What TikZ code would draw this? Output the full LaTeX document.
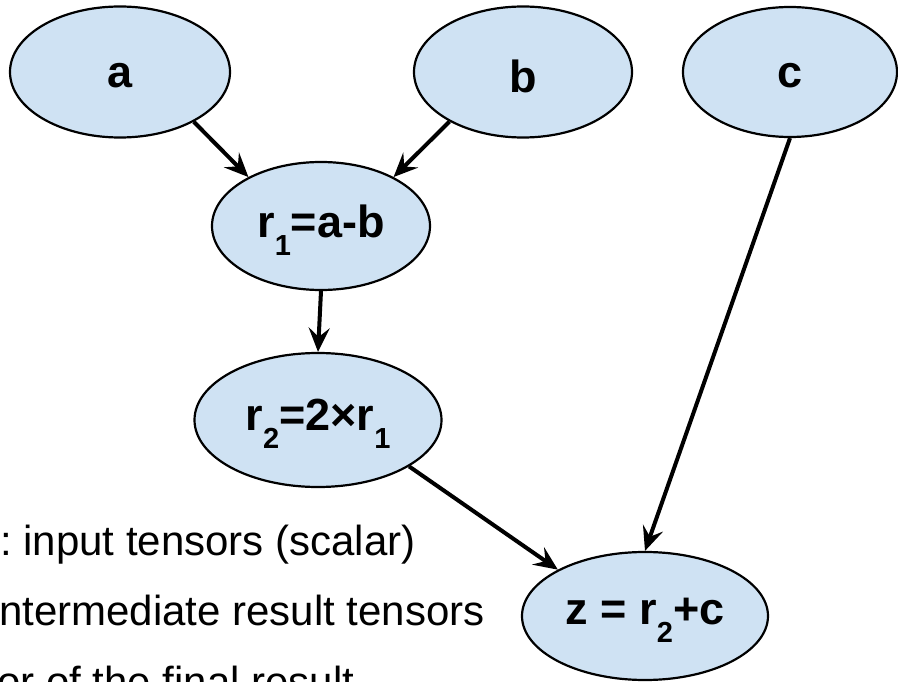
\documentclass[tikz,border=0pt]{standalone}
\usepackage{fontspec}
\setmainfont{Liberation Sans}
\usetikzlibrary{shapes.geometric,arrows.meta}
\definecolor{nodefill}{HTML}{CFE2F3}
\newcommand{\lowsub}[1]{\raisebox{-0.4em}{\fontsize{29}{29}\selectfont #1}}
\begin{document}
\begin{tikzpicture}[x=1pt,y=-1pt,
  tensor/.style={ellipse, draw=black, line width=2.2pt, fill=nodefill, inner sep=0pt,
    font=\fontsize{45}{45}\selectfont\bfseries},
  lbl/.style={inner sep=0pt, yshift=-4pt, font=\fontsize{45}{45}\selectfont\bfseries},
  flow/.style={line width=4pt, -{Stealth[length=24pt,width=21pt,inset=9pt]}},
  legend/.style={anchor=base west, inner sep=0pt, font=\fontsize{42}{42}\selectfont}]
\useasboundingbox (0,0) rectangle (898,682);
\clip (0,0) rectangle (898,682);
\fill[white] (0,0) rectangle (898,682);

\node[tensor, minimum width=220pt, minimum height=131pt] (a) at (120,72) {};
\node[tensor, minimum width=218pt, minimum height=131pt] (b) at (523,72) {};
\node[tensor, minimum width=214pt, minimum height=130pt] (c) at (790,72) {};
\node[tensor, minimum width=218pt, minimum height=128pt] (r1) at (321,226) {};
\node[tensor, minimum width=247pt, minimum height=134pt] (r2) at (318,420) {};
\node[tensor, minimum width=246pt, minimum height=128pt] (z) at (645,616) {};

\node[lbl] (ta) at (a.center) {a};
\node[lbl] (tb) at (b.center) {b};
\node[lbl] (tc) at (c.center) {c};
\node[lbl] (tr1) at (r1.center) {r\lowsub{1}=a-b};
\node[lbl] (tr2) at (r2.center) {r\lowsub{2}=2×r\lowsub{1}};
\node[lbl] (tz) at (z.center) {z = r\lowsub{2}+c};

\draw[flow] (a.-34) -- (r1.146);
\draw[flow] (b.214) -- (r1.34);
\draw[flow] (r1.south) -- (r2.north);
\draw[flow] (r2.-27) -- (z.152);
\draw[flow] (c.south) -- (z.90);

\node[legend] (l1) at (0,555) {:{\hspace{-4pt}} input tensors (scalar)};
\node[legend] (l2) at (-1,625) {ntermediate result tensors};
\node[legend] (l3) at (-3,696) {or of the final result};
\end{tikzpicture}
\end{document}
